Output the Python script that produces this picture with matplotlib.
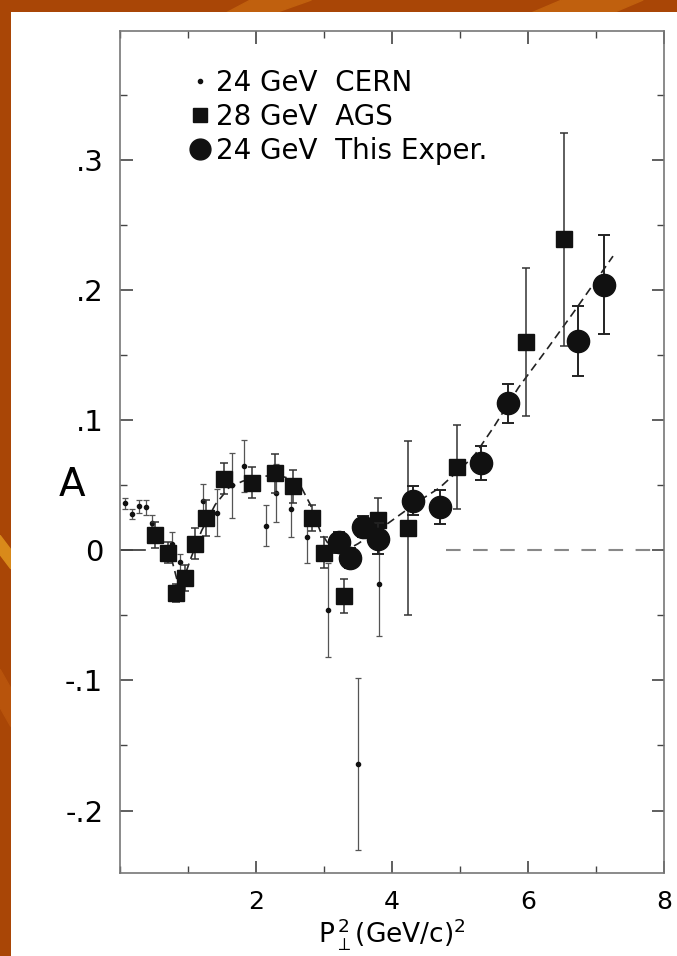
import matplotlib
matplotlib.use("Agg")
import matplotlib.pyplot as plt
from matplotlib.lines import Line2D
from matplotlib.patches import Polygon, Rectangle
from matplotlib.ticker import MultipleLocator, FixedLocator

plt.rcParams["font.family"] = ["DejaVu Sans"]

# 24 GeV CERN (small dots)
cern_x = [0.07, 0.17, 0.28, 0.38, 0.47, 0.76, 0.88, 1.22, 1.43, 1.65, 1.82, 2.15, 2.29, 2.51, 2.75, 3.06, 3.50, 3.81]
cern_y = [0.036, 0.028, 0.034, 0.033, 0.021, 0.005, -0.009, 0.038, 0.029, 0.050, 0.065, 0.019, 0.044, 0.032, 0.010, -0.046, -0.164, -0.026]
cern_err = [0.004, 0.004, 0.005, 0.006, 0.006, 0.009, 0.006, 0.013, 0.018, 0.025, 0.020, 0.016, 0.022, 0.022, 0.020, 0.036, 0.066, 0.040]

# 28 GeV AGS (squares)
ags_x = [0.51, 0.71, 0.82, 0.96, 1.10, 1.27, 1.53, 1.94, 2.28, 2.55, 2.83, 3.00, 3.30, 3.80, 4.24, 4.96, 5.97, 6.53]
ags_y = [0.012, -0.002, -0.033, -0.021, 0.005, 0.025, 0.055, 0.052, 0.059, 0.049, 0.025, -0.002, -0.035, 0.023, 0.017, 0.064, 0.160, 0.239]
ags_err = [0.010, 0.008, 0.007, 0.010, 0.012, 0.014, 0.012, 0.012, 0.015, 0.013, 0.010, 0.012, 0.013, 0.017, 0.067, 0.032, 0.057, 0.082]

# 24 GeV this experiment (large circles)
exp_x = [3.22, 3.38, 3.58, 3.80, 4.31, 4.71, 5.31, 5.71, 6.73, 7.12]
exp_y = [0.006, -0.006, 0.018, 0.009, 0.038, 0.033, 0.067, 0.113, 0.161, 0.204]
exp_err = [0.008, 0.008, 0.008, 0.012, 0.011, 0.013, 0.013, 0.015, 0.027, 0.038]

# hand-drawn trend curve
curve_x = [0.45, 0.6, 0.75, 0.85, 0.95, 1.05, 1.2, 1.4, 1.6, 1.8, 2.0, 2.3, 2.5, 2.65, 2.8, 2.95, 3.1, 3.25,
           3.5, 3.95, 4.4, 4.7, 5.2, 5.5, 5.86, 6.3, 6.7, 7.25]
curve_y = [0.020, 0.010, -0.005, -0.025, -0.020, -0.005, 0.015, 0.035, 0.048, 0.053, 0.056, 0.058, 0.055,
           0.050, 0.035, 0.014, 0.002, -0.002, 0.005, 0.021, 0.038, 0.048, 0.072, 0.095, 0.125, 0.156, 0.185, 0.226]

ytick_vals = [-0.2, -0.1, 0.0, 0.1, 0.2, 0.3]
ytick_text = ["-.2", "-.1", "0", ".1", ".2", ".3"]
xtick_vals = [2, 4, 6, 8]

fig = plt.figure(figsize=(6.77, 9.56), dpi=100)
fig.patch.set_facecolor("#a94606")

# slide background streaks
for pts, col in [
    ([(0.37, 1.0), (0.46, 1.0), (0.40, 0.985), (0.33, 0.985)], "#c0600e"),
    ([(0.83, 1.0), (0.95, 1.0), (0.90, 0.985), (0.78, 0.985)], "#c0600e"),
    ([(0.0, 0.44), (0.016, 0.425), (0.016, 0.405), (0.0, 0.42)], "#d98a1a"),
    ([(0.0, 0.30), (0.016, 0.28), (0.016, 0.24), (0.0, 0.26)], "#b8540c"),
]:
    fig.patches.append(Polygon(pts, closed=True, transform=fig.transFigure, color=col, zorder=0))
fig.patches.append(Rectangle((11 / 677, 0), 1, (956 - 12) / 956, transform=fig.transFigure,
                             facecolor="white", edgecolor="none", zorder=1))

ax = fig.add_axes([120 / 677, 1 - 873 / 956, 544 / 677, 842 / 956])
ax.set_zorder(2)
ax.set_facecolor("none")

ax.plot(curve_x, curve_y, color="#222222", lw=1.2, dashes=(5, 3), zorder=2)
ax.plot([4.8, 8], [0, 0], color="#888888", lw=1.5, dashes=(7, 6), zorder=1)
ax.plot([0, 0.37], [0, 0], color="#333333", lw=1.2, zorder=1)

ax.errorbar(cern_x, cern_y, yerr=cern_err, fmt="o", ms=3, color="#111111", ecolor="#555555",
            elinewidth=0.9, capsize=2.5, capthick=0.9, zorder=3)
ax.errorbar(ags_x, ags_y, yerr=ags_err, fmt="s", ms=11, color="#111111", ecolor="#333333",
            elinewidth=1.1, capsize=3, capthick=1.1, zorder=4)
ax.errorbar(exp_x, exp_y, yerr=exp_err, fmt="o", ms=16, color="#111111", ecolor="#222222",
            elinewidth=1.4, capsize=4, capthick=1.4, zorder=5)

ax.set_xlim(0, 8)
ax.set_ylim(-0.248, 0.399)

ax.xaxis.set_major_locator(FixedLocator(xtick_vals))
ax.xaxis.set_minor_locator(MultipleLocator(1))
ax.yaxis.set_major_locator(FixedLocator(ytick_vals))
ax.yaxis.set_minor_locator(MultipleLocator(0.05))
ax.set_yticklabels(ytick_text)
ax.tick_params(axis="both", which="both", direction="in", top=True, right=True, color="#444444")
ax.tick_params(which="major", length=9, width=1.2)
ax.tick_params(which="minor", length=5, width=1.0)
ax.tick_params(axis="y", labelsize=21, pad=12)
ax.tick_params(axis="x", labelsize=18, pad=12)
for s in ax.spines.values():
    s.set_color("#777777")
    s.set_linewidth(1.2)

ax.set_xlabel(r"$\mathrm{P}_{\perp}^{\,2}$(GeV/c)$^{2}$", fontsize=19, labelpad=2)
fig.text(72 / 677, 1 - 485 / 956, "A", fontsize=28, ha="center", va="center")

handles = [
    Line2D([], [], ls="none", marker="o", ms=3, color="#111111"),
    Line2D([], [], ls="none", marker="s", ms=10, color="#111111"),
    Line2D([], [], ls="none", marker="o", ms=15, color="#111111"),
]
labels = ["24 GeV  CERN", "28 GeV  AGS", "24 GeV  This Exper."]
ax.legend(handles, labels, loc="upper left", bbox_to_anchor=(0.13, 0.955), frameon=False,
          fontsize=20, handlelength=0.7, handletextpad=0.22, labelspacing=0.22, borderpad=0,
          borderaxespad=0)

fig.savefig("out.png", dpi=100, facecolor=fig.get_facecolor())
